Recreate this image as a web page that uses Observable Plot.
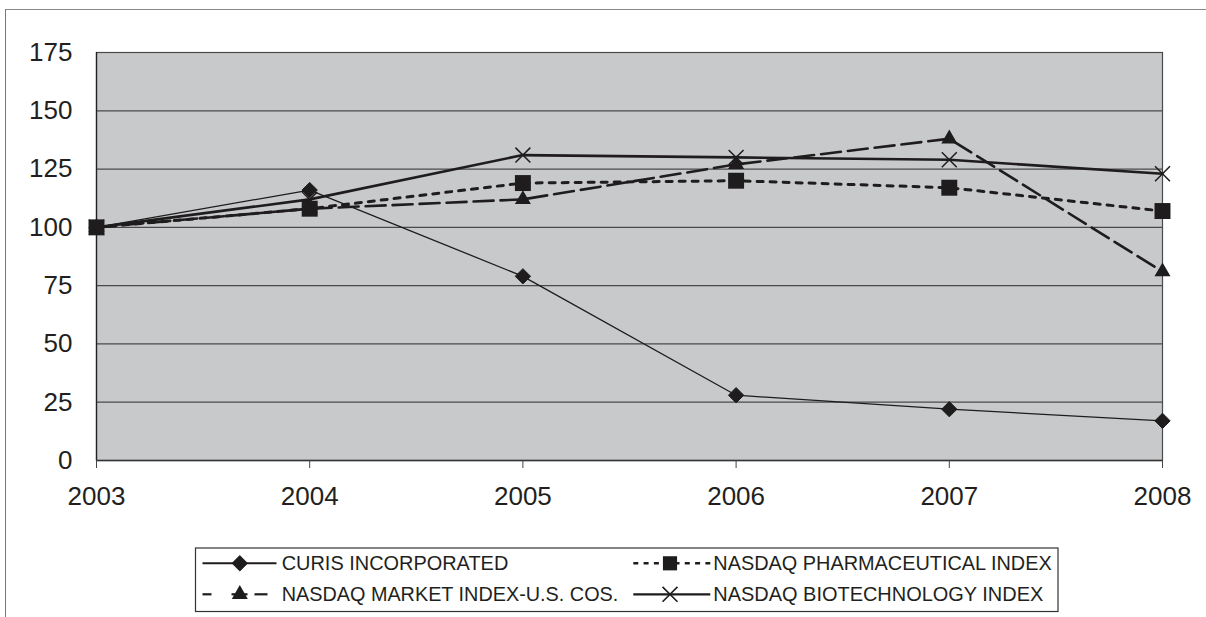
<!DOCTYPE html>
<html>
<head>
<meta charset="utf-8">
<script src="https://cdn.jsdelivr.net/npm/d3@7"></script>
<script src="https://cdn.jsdelivr.net/npm/@observablehq/plot@0.6"></script>
<style>
  html, body { margin: 0; padding: 0; background: #fff; }
  body { width: 1206px; height: 617px; position: relative; overflow: hidden; font-family: "Liberation Sans", Arial, sans-serif; }
  #frame { position: absolute; left: 5px; top: 9px; width: 1201px; height: 608px; border-left: 1px solid #777; border-top: 1px solid #888; box-sizing: border-box; }
  #chart { position: absolute; left: 0; top: 0; }
  #legend { position: absolute; left: 0; top: 540px; }
</style>
</head>
<body>
<div id="frame"></div>
<div id="chart"></div>
<div id="legend"></div>
<script>
// ---- data ----
const years = [2003, 2004, 2005, 2006, 2007, 2008];
const curis = [100, 116, 79, 28, 22, 17];
const pharma = [100, 108, 119, 120, 117, 107];
const market = [100, 108, 112, 127, 138, 81];
const biotech = [100, 112, 131, 130, 129, 123];
const yTicks = [0, 25, 50, 75, 100, 125, 150, 175];
const seriesNames = ["CURIS INCORPORATED", "NASDAQ PHARMACEUTICAL INDEX", "NASDAQ MARKET INDEX-U.S. COS.", "NASDAQ BIOTECHNOLOGY INDEX"];

const rows = (vals) => years.map((y, i) => ({year: y, value: vals[i]}));
const dCuris = rows(curis), dPharma = rows(pharma), dMarket = rows(market), dBio = rows(biotech);

const INK = "#1e1c1d";

const chart = Plot.plot({
  width: 1206,
  height: 540,
  marginLeft: 96,
  marginRight: 44,
  marginTop: 52,
  marginBottom: 80,
  style: {fontFamily: "'Liberation Sans', Arial, sans-serif", color: "#231f20", background: "transparent", overflow: "visible"},
  x: {domain: [2003, 2008]},
  y: {domain: [0, 175]},
  marks: [
    Plot.frame({fill: "#c8c9cb", stroke: "#4a4a4a", strokeWidth: 1.2}),
    Plot.ruleY(yTicks.filter(t => t > 0 && t < 175), {stroke: "#4a4a4a", strokeWidth: 1.2}),
    Plot.ruleY([0], {stroke: "#333", strokeWidth: 1.3}),
    Plot.ruleX([2003], {stroke: "#222", strokeWidth: 1.3}),
    Plot.axisY({ticks: yTicks, tickSize: 0, tickPadding: 24, fontSize: 26, label: null, tickFormat: d => String(d)}),
    Plot.axisX({ticks: years, tickSize: 8, tickPadding: 18, fontSize: 26, label: null, tickFormat: d => String(d), stroke: "#444"}),
    // lines
    Plot.line(dCuris, {x: "year", y: "value", stroke: INK, strokeWidth: 1.3}),
    Plot.line(dPharma, {x: "year", y: "value", stroke: INK, strokeWidth: 3, strokeDasharray: "6,7"}),
    Plot.line(dMarket, {x: "year", y: "value", stroke: INK, strokeWidth: 2.6, strokeDasharray: "20,7"}),
    Plot.line(dBio, {x: "year", y: "value", stroke: INK, strokeWidth: 2.6}),
    // markers
    Plot.dot(dCuris, {x: "year", y: "value", symbol: "diamond2", r: 6.9, fill: INK, stroke: INK, strokeWidth: 1}),
    Plot.dot(dMarket, {x: "year", y: "value", symbol: "triangle", r: 5.95, fill: INK, stroke: "none"}),
    Plot.dot(dBio, {x: "year", y: "value", symbol: "times", r: 6.85, fill: "none", stroke: INK, strokeWidth: 1.5}),
    Plot.dot(dPharma, {x: "year", y: "value", symbol: "square", r: 9.0, fill: INK, stroke: "none"})
  ]
});
document.getElementById("chart").appendChild(chart);

// ---- legend (below the chart) ----
const lg = d3.select("#legend").append("svg")
  .attr("width", 1206).attr("height", 77)
  .style("font-family", "'Liberation Sans', Arial, sans-serif");
const bx = 195.5, by = 8;
lg.append("rect").attr("x", bx).attr("y", by).attr("width", 862.5).attr("height", 63.5)
  .attr("fill", "#fff").attr("stroke", "#333").attr("stroke-width", 1.2);

const sym = (type, size) => d3.symbol().type(type).size(size)();
const row1 = by + 15.3, row2 = by + 46.3;
const col1 = bx, col2 = 633.3 - 7;

// Curis
lg.append("line").attr("x1", col1 + 7).attr("x2", col1 + 81).attr("y1", row1).attr("y2", row1).attr("stroke", INK).attr("stroke-width", 2);
lg.append("path").attr("d", sym(d3.symbolDiamond2, 151)).attr("transform", `translate(${col1 + 44.3},${row1})`).attr("fill", INK).attr("stroke", INK);
// Market
[[7, 16], [36, 52], [59, 72]].forEach(([a, b]) => lg.append("line").attr("x1", col1 + a).attr("x2", col1 + b).attr("y1", row2).attr("y2", row2).attr("stroke", INK).attr("stroke-width", 2.2));
lg.append("path").attr("d", sym(d3.symbolTriangle, 111)).attr("transform", `translate(${col1 + 44.3},${row2})`).attr("fill", INK);
// Pharma
lg.append("line").attr("x1", col2 + 7).attr("x2", col2 + 84).attr("y1", row1).attr("y2", row1).attr("stroke", INK).attr("stroke-width", 2.4).attr("stroke-dasharray", "5,5.3");
lg.append("path").attr("d", sym(d3.symbolSquare, 200)).attr("transform", `translate(${col2 + 43.7},${row1})`).attr("fill", INK);
// Biotech
lg.append("line").attr("x1", col2 + 7).attr("x2", col2 + 84).attr("y1", row2).attr("y2", row2).attr("stroke", INK).attr("stroke-width", 2.2);
lg.append("path").attr("d", sym(d3.symbolTimes, 147)).attr("transform", `translate(${col2 + 43.7},${row2})`).attr("fill", "none").attr("stroke", INK).attr("stroke-width", 1.6);

const labels = [
  {t: seriesNames[0], x: 281.7, y: row1 + 7, w: 226.6},
  {t: seriesNames[1], x: 713.3, y: row1 + 7, w: 338.4},
  {t: seriesNames[2], x: 281.7, y: row2 + 7, w: 336.6},
  {t: seriesNames[3], x: 713.3, y: row2 + 7, w: 330}
];
labels.forEach(l => lg.append("text").attr("x", l.x).attr("y", l.y)
  .attr("font-size", 19.8).attr("fill", "#231f20")
  .attr("textLength", l.w).attr("lengthAdjust", "spacingAndGlyphs").text(l.t));
</script>
</body>
</html>
